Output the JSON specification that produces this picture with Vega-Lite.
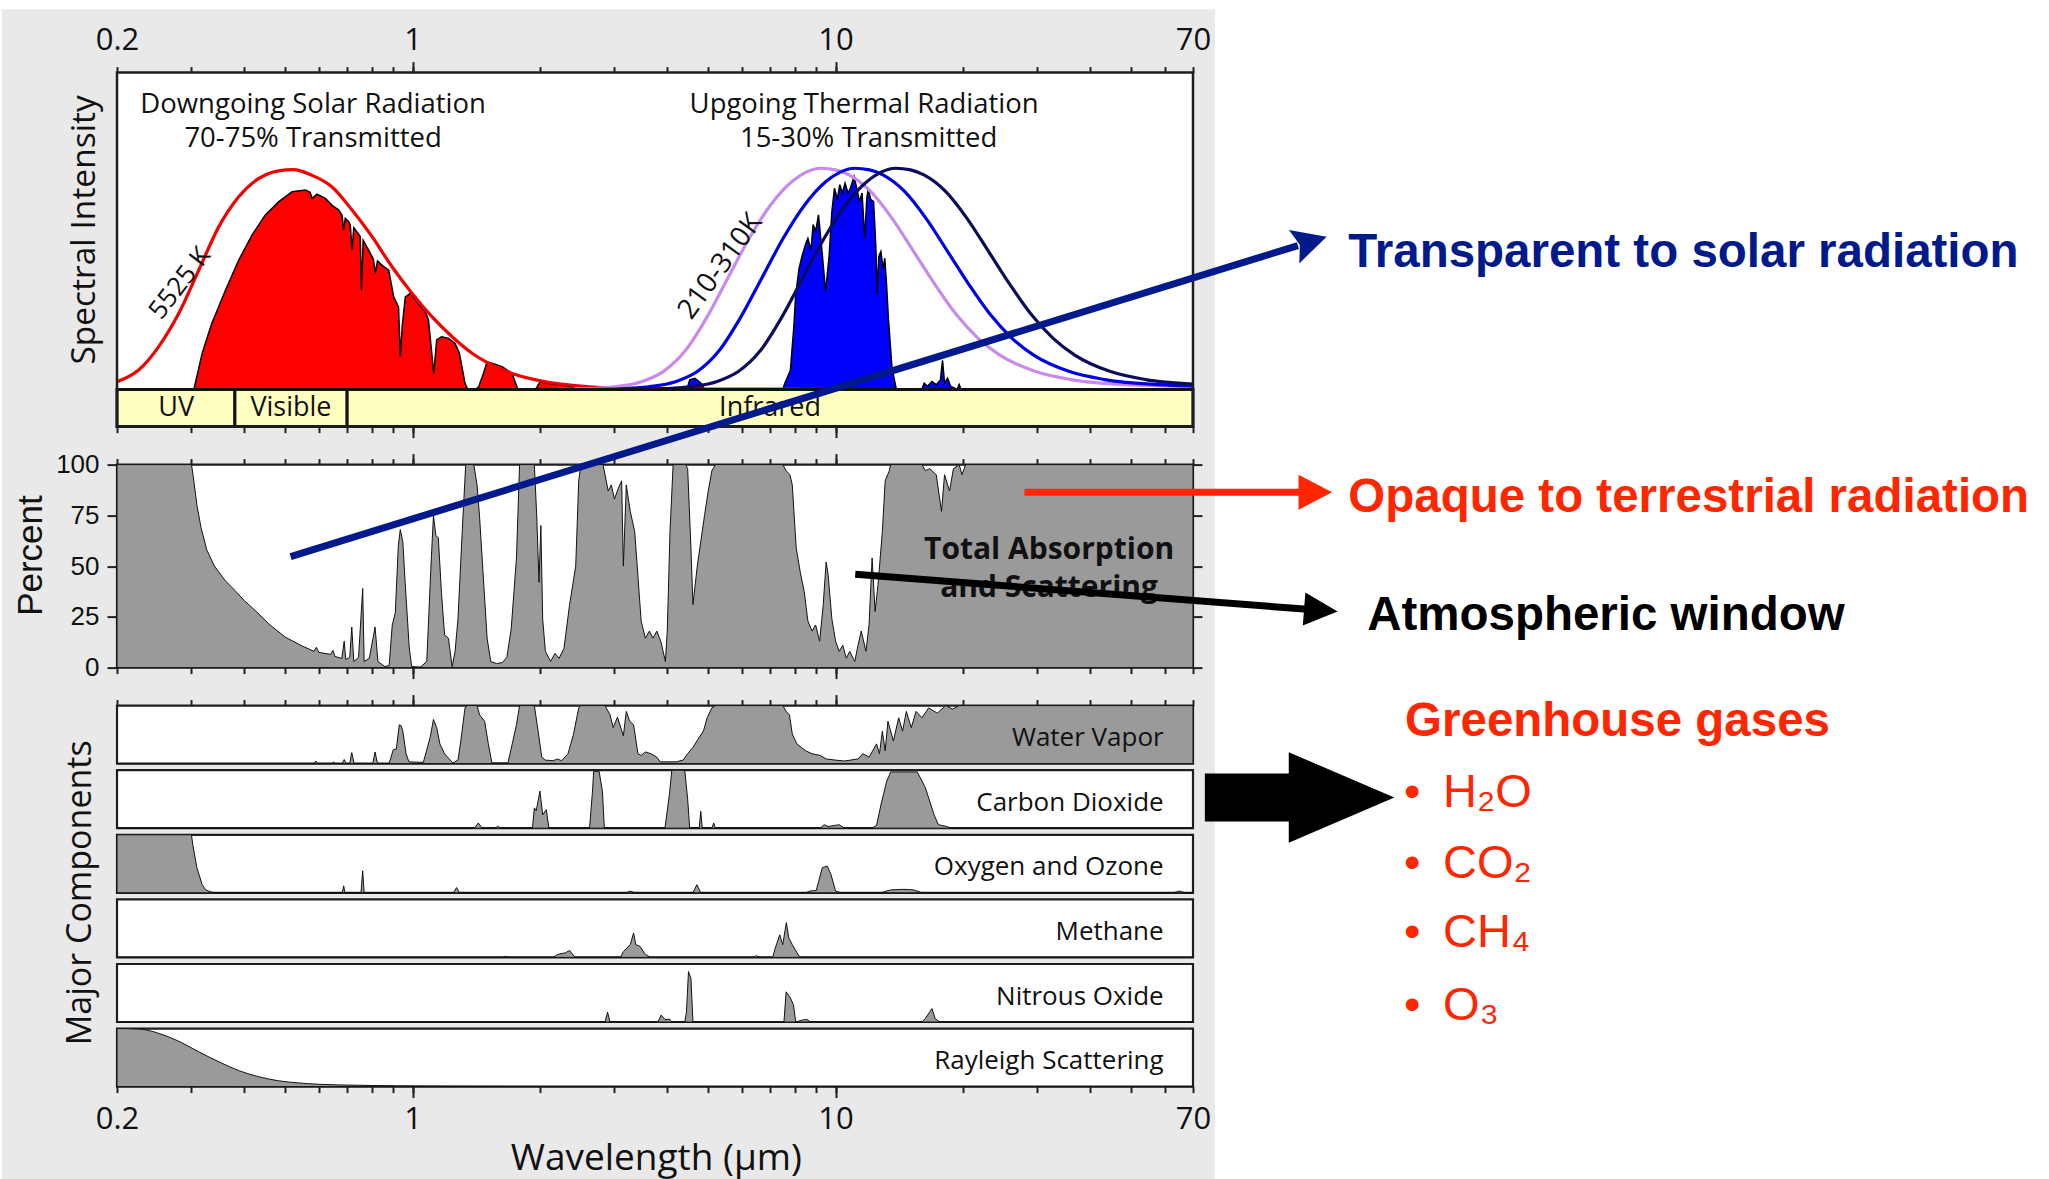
{
"$schema": "https://vega.github.io/schema/vega-lite/v6.json",
"background": "white",
"padding": {"left": 0, "top": 7.6, "right": 0, "bottom": 0},
"config": {"view": {"stroke": "#1e1e1e", "strokeWidth": 2.2, "fill": "white"}},
"resolve": {"scale": {"color": "independent"}, "legend": {"color": "independent"}},
"datasets": {
"solar": [{"w":0.2,"v":0},{"w":0.3,"v":0},{"w":0.304,"v":0},{"w":0.318,"v":0.114},{"w":0.335,"v":0.208},{"w":0.361,"v":0.313},{"w":0.388,"v":0.408},{"w":0.417,"v":0.487},{"w":0.448,"v":0.55},{"w":0.482,"v":0.592},{"w":0.519,"v":0.624},{"w":0.558,"v":0.629},{"w":0.572,"v":0.622},{"w":0.579,"v":0.603},{"w":0.594,"v":0.616},{"w":0.622,"v":0.603},{"w":0.645,"v":0.581},{"w":0.669,"v":0.566},{"w":0.681,"v":0.55},{"w":0.687,"v":0.503},{"w":0.693,"v":0.54},{"w":0.705,"v":0.53},{"w":0.712,"v":0.52},{"w":0.719,"v":0.44},{"w":0.726,"v":0.51},{"w":0.745,"v":0.49},{"w":0.752,"v":0.482},{"w":0.757,"v":0.313},{"w":0.764,"v":0.471},{"w":0.795,"v":0.429},{"w":0.808,"v":0.41},{"w":0.816,"v":0.366},{"w":0.826,"v":0.405},{"w":0.85,"v":0.39},{"w":0.878,"v":0.376},{"w":0.902,"v":0.292},{"w":0.926,"v":0.26},{"w":0.935,"v":0.103},{"w":0.945,"v":0.2},{"w":0.961,"v":0.292},{"w":0.988,"v":0.303},{"w":1.03,"v":0.27},{"w":1.072,"v":0.245},{"w":1.09,"v":0.219},{"w":1.122,"v":0.05},{"w":1.14,"v":0.156},{"w":1.17,"v":0.166},{"w":1.217,"v":0.161},{"w":1.26,"v":0.145},{"w":1.29,"v":0.114},{"w":1.33,"v":0.019},{"w":1.35,"v":0},{"w":1.41,"v":0},{"w":1.433,"v":0.008},{"w":1.47,"v":0.05},{"w":1.5,"v":0.087},{"w":1.56,"v":0.08},{"w":1.628,"v":0.072},{"w":1.718,"v":0.05},{"w":1.77,"v":0.003},{"w":1.82,"v":0},{"w":1.95,"v":0},{"w":1.969,"v":0.008},{"w":2.0,"v":0.024},{"w":2.06,"v":0.021},{"w":2.15,"v":0.016},{"w":2.26,"v":0.014},{"w":2.37,"v":0.008},{"w":2.46,"v":0},{"w":3.0,"v":0}],
"bb5525": [{"w":0.2,"v":0.024},{"w":0.225,"v":0.061},{"w":0.251,"v":0.135},{"w":0.28,"v":0.24},{"w":0.312,"v":0.376},{"w":0.348,"v":0.513},{"w":0.388,"v":0.608},{"w":0.433,"v":0.666},{"w":0.482,"v":0.69},{"w":0.523,"v":0.694},{"w":0.578,"v":0.676},{"w":0.645,"v":0.639},{"w":0.719,"v":0.566},{"w":0.802,"v":0.482},{"w":0.894,"v":0.387},{"w":0.997,"v":0.303},{"w":1.112,"v":0.229},{"w":1.24,"v":0.166},{"w":1.382,"v":0.114},{"w":1.54,"v":0.077},{"w":1.718,"v":0.05},{"w":2.06,"v":0.024},{"w":2.46,"v":0.011},{"w":3.24,"v":0.003},{"w":5,"v":0.001},{"w":10,"v":0}],
"bbT": [
{"s":"310 K","w":2.2,"v":0},{"s":"310 K","w":2.6,"v":0.002},{"s":"310 K","w":3.0,"v":0.008},{"s":"310 K","w":3.49,"v":0.025},{"s":"310 K","w":3.92,"v":0.057},{"s":"310 K","w":4.4,"v":0.12},{"s":"310 K","w":4.95,"v":0.225},{"s":"310 K","w":5.56,"v":0.351},{"s":"310 K","w":6.25,"v":0.477},{"s":"310 K","w":7.02,"v":0.582},{"s":"310 K","w":7.89,"v":0.656},{"s":"310 K","w":8.5,"v":0.685},{"s":"310 K","w":9.22,"v":0.698},{"s":"310 K","w":10.0,"v":0.693},{"s":"310 K","w":10.76,"v":0.677},{"s":"310 K","w":12.1,"v":0.625},{"s":"310 K","w":13.6,"v":0.54},{"s":"310 K","w":15.3,"v":0.435},{"s":"310 K","w":17.2,"v":0.33},{"s":"310 K","w":19.3,"v":0.236},{"s":"310 K","w":21.7,"v":0.162},{"s":"310 K","w":24.4,"v":0.109},{"s":"310 K","w":29.6,"v":0.057},{"s":"310 K","w":36.0,"v":0.031},{"s":"310 K","w":48.1,"v":0.015},{"s":"310 K","w":70,"v":0.009},
{"s":"260 K","w":2.65,"v":0},{"s":"260 K","w":3.13,"v":0.002},{"s":"260 K","w":3.61,"v":0.008},{"s":"260 K","w":4.2,"v":0.025},{"s":"260 K","w":4.72,"v":0.057},{"s":"260 K","w":5.29,"v":0.12},{"s":"260 K","w":5.95,"v":0.225},{"s":"260 K","w":6.69,"v":0.351},{"s":"260 K","w":7.52,"v":0.477},{"s":"260 K","w":8.45,"v":0.582},{"s":"260 K","w":9.49,"v":0.656},{"s":"260 K","w":10.23,"v":0.685},{"s":"260 K","w":11.09,"v":0.698},{"s":"260 K","w":12.03,"v":0.693},{"s":"260 K","w":12.94,"v":0.677},{"s":"260 K","w":14.56,"v":0.625},{"s":"260 K","w":16.36,"v":0.54},{"s":"260 K","w":18.41,"v":0.435},{"s":"260 K","w":20.69,"v":0.33},{"s":"260 K","w":23.22,"v":0.236},{"s":"260 K","w":26.1,"v":0.162},{"s":"260 K","w":29.35,"v":0.109},{"s":"260 K","w":35.6,"v":0.057},{"s":"260 K","w":43.3,"v":0.031},{"s":"260 K","w":57.9,"v":0.015},{"s":"260 K","w":70,"v":0.011},
{"s":"210 K","w":3.3,"v":0},{"s":"210 K","w":3.91,"v":0.002},{"s":"210 K","w":4.51,"v":0.008},{"s":"210 K","w":5.25,"v":0.025},{"s":"210 K","w":5.9,"v":0.057},{"s":"210 K","w":6.62,"v":0.12},{"s":"210 K","w":7.44,"v":0.225},{"s":"210 K","w":8.36,"v":0.351},{"s":"210 K","w":9.4,"v":0.477},{"s":"210 K","w":10.56,"v":0.582},{"s":"210 K","w":11.87,"v":0.656},{"s":"210 K","w":12.78,"v":0.685},{"s":"210 K","w":13.87,"v":0.698},{"s":"210 K","w":15.04,"v":0.693},{"s":"210 K","w":16.18,"v":0.677},{"s":"210 K","w":18.2,"v":0.625},{"s":"210 K","w":20.45,"v":0.54},{"s":"210 K","w":23.01,"v":0.435},{"s":"210 K","w":25.87,"v":0.33},{"s":"210 K","w":29.03,"v":0.236},{"s":"210 K","w":32.64,"v":0.162},{"s":"210 K","w":36.7,"v":0.109},{"s":"210 K","w":44.5,"v":0.057},{"s":"210 K","w":54.1,"v":0.031},{"s":"210 K","w":70,"v":0.017}],
"thermal": [{"w":3.0,"v":0},{"w":4.45,"v":0},{"w":4.52,"v":0.03},{"w":4.65,"v":0.035},{"w":4.8,"v":0.02},{"w":4.9,"v":0},{"w":7.5,"v":0},{"w":7.59,"v":0.02},{"w":7.82,"v":0.06},{"w":7.97,"v":0.2},{"w":8.05,"v":0.3},{"w":8.2,"v":0.383},{"w":8.35,"v":0.425},{"w":8.5,"v":0.46},{"w":8.6,"v":0.477},{"w":8.75,"v":0.44},{"w":8.85,"v":0.52},{"w":8.98,"v":0.5},{"w":9.11,"v":0.551},{"w":9.29,"v":0.435},{"w":9.47,"v":0.309},{"w":9.66,"v":0.425},{"w":9.8,"v":0.56},{"w":9.94,"v":0.635},{"w":10.1,"v":0.6},{"w":10.23,"v":0.646},{"w":10.38,"v":0.62},{"w":10.53,"v":0.651},{"w":10.7,"v":0.62},{"w":10.84,"v":0.635},{"w":11.06,"v":0.672},{"w":11.2,"v":0.64},{"w":11.39,"v":0.593},{"w":11.55,"v":0.62},{"w":11.72,"v":0.477},{"w":11.85,"v":0.6},{"w":11.95,"v":0.635},{"w":12.1,"v":0.6},{"w":12.3,"v":0.593},{"w":12.45,"v":0.45},{"w":12.55,"v":0.3},{"w":12.65,"v":0.42},{"w":12.8,"v":0.435},{"w":12.95,"v":0.38},{"w":13.07,"v":0.414},{"w":13.2,"v":0.33},{"w":13.33,"v":0.225},{"w":13.6,"v":0.066},{"w":13.9,"v":0.005},{"w":14.0,"v":0},{"w":16.0,"v":0},{"w":16.2,"v":0.02},{"w":16.5,"v":0.01},{"w":16.9,"v":0.025},{"w":17.3,"v":0.015},{"w":17.7,"v":0.03},{"w":17.9,"v":0.092},{"w":18.1,"v":0.02},{"w":18.4,"v":0.035},{"w":18.7,"v":0.01},{"w":19.4,"v":0},{"w":19.6,"v":0.015},{"w":19.8,"v":0},{"w":20,"v":0}],
"bands": [{"band":"UV","a":0.2,"b":0.38,"m":0.276},{"band":"Visible","a":0.38,"b":0.7,"m":0.5156},{"band":"Infrared","a":0.7,"b":70,"m":7.0}],
"total": [{"w":0.2,"v":100},{"w":0.3,"v":100},{"w":0.303,"v":94},{"w":0.309,"v":80},{"w":0.316,"v":69},{"w":0.326,"v":58},{"w":0.34,"v":50},{"w":0.36,"v":43},{"w":0.38,"v":38},{"w":0.4,"v":33},{"w":0.43,"v":27},{"w":0.46,"v":21},{"w":0.5,"v":15},{"w":0.55,"v":10.5},{"w":0.585,"v":8},{"w":0.592,"v":10},{"w":0.6,"v":7.5},{"w":0.64,"v":6.5},{"w":0.648,"v":8.5},{"w":0.655,"v":5.5},{"w":0.68,"v":4.5},{"w":0.689,"v":13},{"w":0.695,"v":4},{"w":0.71,"v":5},{"w":0.718,"v":20},{"w":0.726,"v":3},{"w":0.745,"v":5},{"w":0.762,"v":39},{"w":0.768,"v":3},{"w":0.79,"v":4.6},{"w":0.815,"v":20},{"w":0.828,"v":3},{"w":0.86,"v":0.5},{"w":0.88,"v":1},{"w":0.895,"v":21},{"w":0.91,"v":27},{"w":0.925,"v":60},{"w":0.935,"v":68},{"w":0.948,"v":62},{"w":0.96,"v":42},{"w":0.982,"v":9.5},{"w":0.995,"v":0.5},{"w":1.04,"v":0},{"w":1.08,"v":3},{"w":1.105,"v":50},{"w":1.12,"v":75},{"w":1.135,"v":65},{"w":1.15,"v":64},{"w":1.17,"v":37},{"w":1.19,"v":16},{"w":1.215,"v":14.5},{"w":1.24,"v":0.5},{"w":1.26,"v":8},{"w":1.28,"v":24},{"w":1.31,"v":67},{"w":1.335,"v":100},{"w":1.395,"v":100},{"w":1.42,"v":90},{"w":1.44,"v":74},{"w":1.46,"v":54},{"w":1.5,"v":14.5},{"w":1.53,"v":3},{"w":1.58,"v":2},{"w":1.63,"v":2.5},{"w":1.67,"v":5},{"w":1.71,"v":19},{"w":1.76,"v":54},{"w":1.79,"v":100},{"w":1.94,"v":100},{"w":1.965,"v":75},{"w":1.99,"v":42},{"w":2.01,"v":70},{"w":2.03,"v":24},{"w":2.06,"v":8},{"w":2.12,"v":3},{"w":2.17,"v":7},{"w":2.22,"v":4.6},{"w":2.28,"v":9.5},{"w":2.35,"v":31},{"w":2.43,"v":50},{"w":2.47,"v":92},{"w":2.5,"v":100},{"w":2.82,"v":100},{"w":2.9,"v":87},{"w":2.95,"v":90},{"w":3.0,"v":83},{"w":3.06,"v":88},{"w":3.12,"v":92},{"w":3.15,"v":50},{"w":3.2,"v":90},{"w":3.27,"v":77},{"w":3.35,"v":67},{"w":3.47,"v":23},{"w":3.55,"v":14.5},{"w":3.63,"v":18},{"w":3.7,"v":14.5},{"w":3.78,"v":18},{"w":3.86,"v":13},{"w":3.96,"v":3},{"w":4.0,"v":18},{"w":4.06,"v":67},{"w":4.13,"v":100},{"w":4.42,"v":100},{"w":4.47,"v":98},{"w":4.55,"v":59},{"w":4.6,"v":31},{"w":4.71,"v":50},{"w":4.8,"v":62},{"w":4.9,"v":75},{"w":5.0,"v":87},{"w":5.1,"v":97},{"w":5.2,"v":100},{"w":7.5,"v":100},{"w":7.64,"v":97},{"w":7.8,"v":95},{"w":7.9,"v":90},{"w":8.07,"v":59},{"w":8.25,"v":47},{"w":8.43,"v":37.5},{"w":8.6,"v":23},{"w":8.8,"v":18},{"w":8.97,"v":21},{"w":9.17,"v":13},{"w":9.35,"v":31},{"w":9.5,"v":52},{"w":9.6,"v":46},{"w":9.8,"v":24},{"w":10.0,"v":13},{"w":10.2,"v":8},{"w":10.4,"v":11},{"w":10.6,"v":4.6},{"w":10.8,"v":8},{"w":11.1,"v":3},{"w":11.3,"v":11},{"w":11.5,"v":18},{"w":11.8,"v":8},{"w":12.0,"v":21},{"w":12.2,"v":54},{"w":12.4,"v":27.6},{"w":12.6,"v":40.8},{"w":12.9,"v":67},{"w":13.1,"v":92},{"w":13.4,"v":97},{"w":13.5,"v":100},{"w":16.0,"v":100},{"w":16.3,"v":97},{"w":16.7,"v":98},{"w":17.3,"v":95},{"w":17.8,"v":77},{"w":18.1,"v":95},{"w":18.6,"v":87},{"w":19.0,"v":98},{"w":19.6,"v":100},{"w":19.9,"v":95},{"w":20.3,"v":100},{"w":70,"v":100}],
"arrows": [{"name":"transparent","x":0.5146,"y":54.7,"x2":123.9,"y2":207.9},{"name":"opaque","x":27.96,"y":86.4,"x2":126.8,"y2":86.4},{"name":"window","x":11.13,"y":46.0,"x2":130.7,"y2":28.7}],
"notes": [{"name":"transparent","t":"Transparent to solar radiation","x":163.1,"y":197.5},{"name":"opaque","t":"Opaque to terrestrial radiation","x":163.1,"y":76.8},{"name":"window","t":"Atmospheric window","x":180.7,"y":18.6},{"name":"greenhouse","t":"Greenhouse gases","x":222.1,"y":-33.5}],
"gases": [{"t":"H\u2082O","x":273.2,"y":-68.5},{"t":"CO\u2082","x":273.2,"y":-103.8},{"t":"CH\u2084","x":273.2,"y":-137.4},{"t":"O\u2083","x":273.2,"y":-173.4}],
"bullets": [{"t":"\u2022","x":230.8,"y":-68.5},{"t":"\u2022","x":230.8,"y":-103.8},{"t":"\u2022","x":230.8,"y":-137.4},{"t":"\u2022","x":230.8,"y":-173.4}],
"wv": [{"w":0.2,"v":0},{"w":0.585,"v":0},{"w":0.59,"v":0.045},{"w":0.596,"v":0},{"w":0.645,"v":0},{"w":0.65,"v":0.03},{"w":0.656,"v":0},{"w":0.682,"v":0},{"w":0.689,"v":0.07},{"w":0.696,"v":0},{"w":0.71,"v":0},{"w":0.718,"v":0.19},{"w":0.727,"v":0},{"w":0.805,"v":0},{"w":0.815,"v":0.2},{"w":0.826,"v":0},{"w":0.88,"v":0},{"w":0.9,"v":0.24},{"w":0.915,"v":0.25},{"w":0.93,"v":0.67},{"w":0.94,"v":0.65},{"w":0.948,"v":0.56},{"w":0.965,"v":0.17},{"w":0.98,"v":0.03},{"w":1.06,"v":0.02},{"w":1.1,"v":0.45},{"w":1.12,"v":0.76},{"w":1.14,"v":0.62},{"w":1.16,"v":0.34},{"w":1.19,"v":0.17},{"w":1.22,"v":0.08},{"w":1.245,"v":0.01},{"w":1.28,"v":0.06},{"w":1.3,"v":0.39},{"w":1.33,"v":0.96},{"w":1.35,"v":1},{"w":1.42,"v":1},{"w":1.44,"v":0.84},{"w":1.48,"v":0.73},{"w":1.51,"v":0.34},{"w":1.54,"v":0.01},{"w":1.68,"v":0.01},{"w":1.72,"v":0.34},{"w":1.76,"v":0.67},{"w":1.79,"v":1},{"w":1.94,"v":1},{"w":1.98,"v":0.56},{"w":2.02,"v":0.11},{"w":2.06,"v":0.06},{"w":2.15,"v":0.05},{"w":2.2,"v":0.08},{"w":2.25,"v":0.05},{"w":2.33,"v":0.17},{"w":2.4,"v":0.5},{"w":2.47,"v":0.96},{"w":2.5,"v":1},{"w":2.85,"v":1},{"w":2.93,"v":0.84},{"w":2.98,"v":0.62},{"w":3.05,"v":0.8},{"w":3.15,"v":0.48},{"w":3.2,"v":0.9},{"w":3.26,"v":0.73},{"w":3.33,"v":0.67},{"w":3.41,"v":0.17},{"w":3.47,"v":0.14},{"w":3.55,"v":0.2},{"w":3.66,"v":0.17},{"w":3.78,"v":0.11},{"w":3.85,"v":0.03},{"w":4.2,"v":0.03},{"w":4.36,"v":0.06},{"w":4.47,"v":0.17},{"w":4.6,"v":0.28},{"w":4.7,"v":0.39},{"w":4.87,"v":0.56},{"w":4.97,"v":0.79},{"w":5.1,"v":0.96},{"w":5.2,"v":1},{"w":7.5,"v":1},{"w":7.64,"v":0.9},{"w":7.78,"v":0.84},{"w":7.9,"v":0.51},{"w":8.1,"v":0.34},{"w":8.3,"v":0.28},{"w":8.5,"v":0.22},{"w":8.8,"v":0.17},{"w":9.2,"v":0.14},{"w":9.5,"v":0.08},{"w":10,"v":0.06},{"w":10.5,"v":0.045},{"w":11.3,"v":0.08},{"w":11.6,"v":0.17},{"w":12,"v":0.11},{"w":12.5,"v":0.34},{"w":12.7,"v":0.17},{"w":12.9,"v":0.56},{"w":13.1,"v":0.22},{"w":13.3,"v":0.73},{"w":13.7,"v":0.39},{"w":14.1,"v":0.79},{"w":14.4,"v":0.56},{"w":14.7,"v":0.9},{"w":15.1,"v":0.62},{"w":15.5,"v":0.9},{"w":16,"v":0.79},{"w":16.6,"v":0.96},{"w":17.4,"v":0.87},{"w":18.2,"v":1},{"w":18.9,"v":0.94},{"w":19.6,"v":1},{"w":70,"v":1}],
"co2": [{"w":0.2,"v":0},{"w":1.4,"v":0},{"w":1.43,"v":0.09},{"w":1.46,"v":0},{"w":1.56,"v":0},{"w":1.59,"v":0.03},{"w":1.62,"v":0},{"w":1.92,"v":0},{"w":1.94,"v":0.35},{"w":1.96,"v":0.3},{"w":2.0,"v":0.64},{"w":2.03,"v":0.23},{"w":2.07,"v":0.32},{"w":2.1,"v":0},{"w":2.62,"v":0},{"w":2.66,"v":0.6},{"w":2.68,"v":0.98},{"w":2.76,"v":0.98},{"w":2.81,"v":0.64},{"w":2.84,"v":0},{"w":3.95,"v":0},{"w":4.05,"v":0.6},{"w":4.1,"v":1},{"w":4.4,"v":1},{"w":4.47,"v":0.5},{"w":4.52,"v":0},{"w":4.76,"v":0},{"w":4.8,"v":0.29},{"w":4.84,"v":0},{"w":5.1,"v":0},{"w":5.15,"v":0.09},{"w":5.2,"v":0},{"w":9.2,"v":0},{"w":9.4,"v":0.06},{"w":9.6,"v":0.03},{"w":10.2,"v":0.06},{"w":10.5,"v":0},{"w":12.2,"v":0},{"w":12.5,"v":0.05},{"w":12.8,"v":0.4},{"w":13.2,"v":0.8},{"w":13.5,"v":0.97},{"w":15.6,"v":0.97},{"w":16.3,"v":0.7},{"w":17.1,"v":0.23},{"w":17.5,"v":0.06},{"w":18.3,"v":0.03},{"w":18.8,"v":0},{"w":70,"v":0}],
"o3": [{"w":0.2,"v":1},{"w":0.3,"v":1},{"w":0.302,"v":0.84},{"w":0.309,"v":0.43},{"w":0.318,"v":0.14},{"w":0.324,"v":0.05},{"w":0.335,"v":0.01},{"w":0.345,"v":0},{"w":0.682,"v":0},{"w":0.687,"v":0.12},{"w":0.692,"v":0},{"w":0.755,"v":0},{"w":0.762,"v":0.38},{"w":0.768,"v":0},{"w":1.25,"v":0},{"w":1.27,"v":0.09},{"w":1.29,"v":0},{"w":3.2,"v":0},{"w":3.27,"v":0.03},{"w":3.35,"v":0},{"w":4.6,"v":0},{"w":4.7,"v":0.14},{"w":4.8,"v":0},{"w":8.5,"v":0},{"w":8.7,"v":0.03},{"w":9.0,"v":0.04},{"w":9.3,"v":0.43},{"w":9.55,"v":0.46},{"w":9.75,"v":0.32},{"w":10.0,"v":0.03},{"w":10.3,"v":0},{"w":12.8,"v":0},{"w":13.5,"v":0.05},{"w":14.5,"v":0.06},{"w":15.3,"v":0.05},{"w":16,"v":0},{"w":63,"v":0},{"w":65,"v":0.03},{"w":67,"v":0},{"w":70,"v":0}],
"ch4": [{"w":0.2,"v":0},{"w":1.63,"v":0},{"w":1.66,"v":0.02},{"w":1.69,"v":0},{"w":2.15,"v":0},{"w":2.2,"v":0.05},{"w":2.3,"v":0.08},{"w":2.35,"v":0.12},{"w":2.42,"v":0},{"w":3.1,"v":0},{"w":3.15,"v":0.1},{"w":3.27,"v":0.22},{"w":3.33,"v":0.42},{"w":3.37,"v":0.22},{"w":3.45,"v":0.19},{"w":3.55,"v":0.05},{"w":3.65,"v":0},{"w":6.4,"v":0},{"w":6.5,"v":0.03},{"w":6.6,"v":0},{"w":7.1,"v":0},{"w":7.2,"v":0.16},{"w":7.38,"v":0.39},{"w":7.5,"v":0.22},{"w":7.65,"v":0.6},{"w":7.75,"v":0.34},{"w":7.9,"v":0.22},{"w":8.2,"v":0.02},{"w":8.3,"v":0},{"w":70,"v":0}],
"n2o": [{"w":0.2,"v":0},{"w":2.85,"v":0},{"w":2.89,"v":0.17},{"w":2.93,"v":0},{"w":3.8,"v":0},{"w":3.87,"v":0.12},{"w":3.95,"v":0.04},{"w":4.05,"v":0.05},{"w":4.1,"v":0},{"w":4.4,"v":0},{"w":4.44,"v":0.17},{"w":4.49,"v":0.87},{"w":4.55,"v":0.75},{"w":4.6,"v":0},{"w":7.55,"v":0},{"w":7.64,"v":0.52},{"w":7.8,"v":0.43},{"w":7.95,"v":0.3},{"w":8.05,"v":0},{"w":8.4,"v":0.04},{"w":8.6,"v":0.04},{"w":8.7,"v":0},{"w":16,"v":0},{"w":16.3,"v":0.06},{"w":16.9,"v":0.23},{"w":17.2,"v":0.06},{"w":17.6,"v":0},{"w":70,"v":0}],
"ray": [{"w":0.2,"v":1},{"w":0.227,"v":0.99},{"w":0.253,"v":0.91},{"w":0.282,"v":0.77},{"w":0.314,"v":0.59},{"w":0.35,"v":0.42},{"w":0.39,"v":0.27},{"w":0.433,"v":0.17},{"w":0.482,"v":0.1},{"w":0.537,"v":0.064},{"w":0.6,"v":0.04},{"w":0.745,"v":0.023},{"w":0.92,"v":0.012},{"w":1.14,"v":0.006},{"w":2,"v":0.001},{"w":70,"v":0}]
},
"spacing": 38,
"bounds": "flush",
"vconcat": [
{
"width": 1076, "height": 354,
"resolve": {"axis": {"x": "independent"}},
"layer": [
{"data": {"values": [{}]}, "mark": {"type": "rect", "fill": "#e9e9e9"},
 "encoding": {"x": {"datum": 0.10696, "type": "quantitative", "scale": {"type": "log", "domain": [0.2, 70], "nice": false}, "axis": null}, "x2": {"datum": 78.94}, "y": {"datum": 1.2, "type": "quantitative", "scale": {"domain": [-0.1175, 1], "nice": false, "zero": false}, "axis": null}, "y2": {"datum": -2.494}}},
{"data": {"values": [{}]}, "mark": {"type": "rect", "fill": "white"},
 "encoding": {"x": {"datum": 0.2, "type": "quantitative", "axis": null}, "x2": {"datum": 70}, "y": {"datum": 0, "type": "quantitative", "axis": null}, "y2": {"datum": 1}}},
{"data": {"name": "solar"}, "mark": {"type": "area", "fill": "#ff0000", "stroke": "#000", "strokeWidth": 1.5},
 "encoding": {"x": {"field": "w", "type": "quantitative", "axis": {"orient": "top", "values": [0.2,0.3,0.4,0.5,0.6,0.7,0.8,0.9,1,2,3,4,5,6,7,8,9,10,20,30,40,50,60,70], "format": "~g", "labelExpr": "(datum.value==0.2||datum.value==1||datum.value==10||datum.value==70)?datum.label:''", "labelFont": "Open Sans", "labelFontSize": 31, "labelColor": "#111", "labelPadding": 10, "labelFlush": false, "labelOverlap": false, "labelBound": false, "tickSize": 6, "tickWidth": 2, "tickColor": "#222", "domain": false, "grid": false, "title": null, "zindex": 1}}, "y": {"field": "v", "type": "quantitative", "axis": null}}},
{"data": {"name": "thermal"}, "mark": {"type": "area", "fill": "#0000ff", "stroke": "#000", "strokeWidth": 1.5},
 "encoding": {"x": {"field": "w", "type": "quantitative", "axis": {"orient": "top", "values": [1, 10], "labels": false, "tickSize": 11, "tickWidth": 2, "tickColor": "#222", "domain": false, "grid": false, "title": null, "zindex": 1}}, "y": {"field": "v", "type": "quantitative", "axis": null}}},
{"data": {"name": "bb5525"}, "mark": {"type": "line", "stroke": "#f00000", "strokeWidth": 3.2, "interpolate": "monotone"},
 "encoding": {"x": {"field": "w", "type": "quantitative", "axis": {"orient": "bottom", "values": [0.2,0.3,0.4,0.5,0.6,0.7,0.8,0.9,1,2,3,4,5,6,7,8,9,10,20,30,40,50,60,70], "labels": false, "tickSize": 6, "tickWidth": 2, "tickColor": "#222", "domain": false, "grid": false, "title": null, "zindex": 1}}, "y": {"field": "v", "type": "quantitative", "axis": null}}},
{"data": {"name": "bbT"}, "mark": {"type": "line", "strokeWidth": 3.2, "interpolate": "monotone"},
 "encoding": {"x": {"field": "w", "type": "quantitative", "axis": {"orient": "bottom", "values": [1, 10], "labels": false, "tickSize": 11, "tickWidth": 2, "tickColor": "#222", "domain": false, "grid": false, "title": null, "zindex": 1}}, "y": {"field": "v", "type": "quantitative", "axis": null}, "color": {"field": "s", "type": "nominal", "scale": {"domain": ["310 K", "260 K", "210 K"], "range": ["#c98aee", "#0000e6", "#0c0c5c"]}, "legend": null}}},
{"data": {"name": "bands"}, "mark": {"type": "rect", "fill": "#ffffc2", "stroke": "#111", "strokeWidth": 3},
 "encoding": {"x": {"field": "a", "type": "quantitative", "axis": null}, "x2": {"field": "b"}, "y": {"datum": 0, "type": "quantitative", "axis": null}, "y2": {"datum": -0.1175}}},
{"data": {"name": "bands"}, "mark": {"type": "text", "font": "Open Sans", "fontSize": 27, "color": "#111", "align": "center", "baseline": "middle"},
 "encoding": {"x": {"field": "m", "type": "quantitative", "axis": null}, "y": {"datum": -0.058, "type": "quantitative", "axis": null}, "text": {"field": "band"}}},
{"data": {"values": [{"t": "Downgoing Solar Radiation", "x": 0.5816, "y": 0.8737}, {"t": "70-75% Transmitted", "x": 0.5816, "y": 0.7642}, {"t": "Upgoing Thermal Radiation", "x": 11.68, "y": 0.8737}, {"t": "15-30% Transmitted", "x": 11.97, "y": 0.7642}]},
 "mark": {"type": "text", "font": "Open Sans", "fontSize": 27.5, "color": "#111", "align": "center", "baseline": "alphabetic"},
 "encoding": {"x": {"field": "x", "type": "quantitative", "axis": null}, "y": {"field": "y", "type": "quantitative", "axis": null}, "text": {"field": "t"}}},
{"data": {"values": [{"t": "5525 K", "x": 0.2818, "y": 0.3349}]},
 "mark": {"type": "text", "font": "Open Sans", "fontSize": 26, "color": "#111", "align": "center", "baseline": "middle", "angle": 307.6},
 "encoding": {"x": {"field": "x", "type": "quantitative", "axis": null}, "y": {"field": "y", "type": "quantitative", "axis": null}, "text": {"field": "t"}}},
{"data": {"values": [{"t": "210-310K", "x": 5.35, "y": 0.3876}]},
 "mark": {"type": "text", "font": "Open Sans", "fontSize": 28, "color": "#111", "align": "center", "baseline": "middle", "angle": 306},
 "encoding": {"x": {"field": "x", "type": "quantitative", "axis": null}, "y": {"field": "y", "type": "quantitative", "axis": null}, "text": {"field": "t"}}},
{"data": {"values": [{"t": "Spectral Intensity", "x": 0.1682, "y": 0.5035}]},
 "mark": {"type": "text", "font": "Open Sans", "fontSize": 33.5, "color": "#111", "align": "center", "baseline": "middle", "angle": 270},
 "encoding": {"x": {"field": "x", "type": "quantitative", "axis": null}, "y": {"field": "y", "type": "quantitative", "axis": null}, "text": {"field": "t"}}},
{"data": {"values": [{}]}, "mark": {"type": "rect", "filled": false, "color": "#1e1e1e", "strokeWidth": 2.5},
 "encoding": {"x": {"datum": 0.2, "type": "quantitative", "axis": null}, "x2": {"datum": 70}, "y": {"datum": -0.1175, "type": "quantitative", "axis": null}, "y2": {"datum": 1}}}
]
},
{
"width": 1076, "height": 203,
"resolve": {"axis": {"x": "independent", "y": "independent"}},
"layer": [
{"data": {"name": "total"}, "mark": {"type": "area", "fill": "#9a9a9a", "stroke": "#111", "strokeWidth": 1},
 "encoding": {"x": {"field": "w", "type": "quantitative", "scale": {"type": "log", "domain": [0.2, 70], "nice": false}, "axis": {"orient": "bottom", "values": [0.2,0.3,0.4,0.5,0.6,0.7,0.8,0.9,1,2,3,4,5,6,7,8,9,10,20,30,40,50,60,70], "labels": false, "tickSize": 6, "tickWidth": 2, "tickColor": "#222", "domain": false, "grid": false, "title": null}},
  "y": {"field": "v", "type": "quantitative", "scale": {"domain": [0, 100], "nice": false}, "axis": {"orient": "left", "values": [0, 25, 50, 75, 100], "labelFont": "Liberation Sans", "labelFontSize": 26, "labelColor": "#111", "labelPadding": 8, "tickSize": 10, "tickWidth": 2, "tickColor": "#222", "domain": false, "grid": false, "title": null}}}},
{"data": {"values": [{"t": "Total Absorption", "x": 31.98, "y": 53.3}, {"t": "and Scattering", "x": 31.98, "y": 34.6}]},
 "mark": {"type": "text", "font": "Open Sans", "fontWeight": "bold", "fontSize": 30, "color": "#111", "align": "center", "baseline": "alphabetic"},
 "encoding": {"x": {"field": "x", "type": "quantitative", "axis": {"orient": "top", "values": [0.2,0.3,0.4,0.5,0.6,0.7,0.8,0.9,1,2,3,4,5,6,7,8,9,10,20,30,40,50,60,70], "labels": false, "tickSize": 6, "tickWidth": 2, "tickColor": "#222", "domain": false, "grid": false, "title": null}},
  "y": {"field": "y", "type": "quantitative", "axis": {"orient": "right", "values": [0, 25, 50, 75, 100], "labels": false, "tickSize": 9, "tickWidth": 2, "tickColor": "#222", "domain": false, "grid": false, "title": null}}, "text": {"field": "t"}}},
{"data": {"values": [{"t": "Percent", "x": 0.1252, "y": 55.2}]},
 "mark": {"type": "text", "font": "Liberation Sans", "fontSize": 35, "color": "#111", "align": "center", "baseline": "middle", "angle": 270},
 "encoding": {"x": {"field": "x", "type": "quantitative", "axis": {"orient": "top", "values": [1, 10], "labels": false, "tickSize": 11, "tickWidth": 2, "tickColor": "#222", "domain": false, "grid": false, "title": null}}, "y": {"field": "y", "type": "quantitative", "axis": null}, "text": {"field": "t"}}},
{"data": {"name": "arrows"}, "mark": {"type": "rule", "strokeWidth": 7, "strokeCap": "butt"},
 "encoding": {"x": {"field": "x", "type": "quantitative", "axis": {"orient": "bottom", "values": [1, 10], "labels": false, "tickSize": 11, "tickWidth": 2, "tickColor": "#222", "domain": false, "grid": false, "title": null}}, "x2": {"field": "x2"}, "y": {"field": "y", "type": "quantitative", "axis": null}, "y2": {"field": "y2"},
  "color": {"field": "name", "type": "nominal", "scale": {"domain": ["transparent", "opaque", "window", "greenhouse"], "range": ["#001a8c", "#ff2600", "#000000", "#ff2600"]}, "legend": null}}},
{"data": {"values": [{"x": 144.9, "y": 212.3}]},
 "mark": {"type": "point", "shape": "M0,0L-3.4,-1.75L-2.8,0L-3.4,1.75Z", "size": 400, "angle": 342.83, "filled": true, "color": "#001a8c", "opacity": 1, "strokeWidth": 0},
 "encoding": {"x": {"field": "x", "type": "quantitative", "axis": null}, "y": {"field": "y", "type": "quantitative", "axis": null}}},
{"data": {"values": [{"x": 149.3, "y": 86.4}]},
 "mark": {"type": "point", "shape": "M0,0L-3.36,-1.75L-3.36,1.75Z", "size": 400, "angle": 0, "filled": true, "color": "#ff2600", "opacity": 1, "strokeWidth": 0},
 "encoding": {"x": {"field": "x", "type": "quantitative", "axis": null}, "y": {"field": "y", "type": "quantitative", "axis": null}}},
{"data": {"values": [{"x": 153.8, "y": 27.6}]},
 "mark": {"type": "point", "shape": "M0,0L-3.36,-1.65L-3.36,1.65Z", "size": 400, "angle": 4.42, "filled": true, "color": "#000000", "opacity": 1, "strokeWidth": 0},
 "encoding": {"x": {"field": "x", "type": "quantitative", "axis": null}, "y": {"field": "y", "type": "quantitative", "axis": null}}},
{"data": {"values": [{"x": 209.5, "y": -64.0}]},
 "mark": {"type": "point", "shape": "M0,0L-1.056,-0.453L-1.056,-0.239L-1.895,-0.239L-1.895,0.239L-1.056,0.239L-1.056,0.453Z", "size": 40000, "angle": 0, "filled": true, "color": "#000000", "opacity": 1, "strokeWidth": 0},
 "encoding": {"x": {"field": "x", "type": "quantitative", "axis": null}, "y": {"field": "y", "type": "quantitative", "axis": null}}},
{"data": {"name": "notes"}, "mark": {"type": "text", "font": "Liberation Sans", "fontWeight": "bold", "fontSize": 47.5, "align": "left", "baseline": "alphabetic"},
 "encoding": {"x": {"field": "x", "type": "quantitative", "axis": null}, "y": {"field": "y", "type": "quantitative", "axis": null}, "text": {"field": "t"}, "color": {"field": "name", "type": "nominal", "legend": null}}},
{"data": {"name": "gases"}, "mark": {"type": "text", "font": "Liberation Sans", "fontSize": 47, "color": "#ff2600", "align": "left", "baseline": "alphabetic"},
 "encoding": {"x": {"field": "x", "type": "quantitative", "axis": null}, "y": {"field": "y", "type": "quantitative", "axis": null}, "text": {"field": "t"}}},
{"data": {"name": "bullets"}, "mark": {"type": "text", "font": "Liberation Sans", "fontSize": 47, "color": "#ff2600", "align": "center", "baseline": "alphabetic"},
 "encoding": {"x": {"field": "x", "type": "quantitative", "axis": null}, "y": {"field": "y", "type": "quantitative", "axis": null}, "text": {"field": "t"}}}
]
},
{
"spacing": 6.6,
"bounds": "flush",
"vconcat": [
{"width": 1076, "height": 58, "resolve": {"axis": {"x": "independent"}},
 "layer": [
 {"data": {"name": "wv"}, "mark": {"type": "area", "fill": "#9a9a9a", "stroke": "#111", "strokeWidth": 1},
  "encoding": {"x": {"field": "w", "type": "quantitative", "scale": {"type": "log", "domain": [0.2, 70], "nice": false}, "axis": {"orient": "top", "values": [0.2,0.3,0.4,0.5,0.6,0.7,0.8,0.9,1,2,3,4,5,6,7,8,9,10,20,30,40,50,60,70], "labels": false, "tickSize": 6, "tickWidth": 2, "tickColor": "#222", "domain": false, "grid": false, "title": null}}, "y": {"field": "v", "type": "quantitative", "scale": {"domain": [0, 1], "nice": false}, "axis": null}}},
 {"data": {"values": [{"t": "Water Vapor", "x": 59.66, "y": 0.3}]}, "mark": {"type": "text", "font": "Open Sans", "fontSize": 26, "color": "#111", "align": "right", "baseline": "alphabetic"},
  "encoding": {"x": {"field": "x", "type": "quantitative", "axis": {"orient": "top", "values": [1, 10], "labels": false, "tickSize": 11, "tickWidth": 2, "tickColor": "#222", "domain": false, "grid": false, "title": null}}, "y": {"field": "y", "type": "quantitative", "axis": null}, "text": {"field": "t"}}}
 ]},
{"width": 1076, "height": 58,
 "layer": [
 {"data": {"name": "co2"}, "mark": {"type": "area", "fill": "#9a9a9a", "stroke": "#111", "strokeWidth": 1},
  "encoding": {"x": {"field": "w", "type": "quantitative", "scale": {"type": "log", "domain": [0.2, 70], "nice": false}, "axis": null}, "y": {"field": "v", "type": "quantitative", "scale": {"domain": [0, 1], "nice": false}, "axis": null}}},
 {"data": {"values": [{"t": "Carbon Dioxide", "x": 59.66, "y": 0.3}]}, "mark": {"type": "text", "font": "Open Sans", "fontSize": 26, "color": "#111", "align": "right", "baseline": "alphabetic"},
  "encoding": {"x": {"field": "x", "type": "quantitative", "axis": null}, "y": {"field": "y", "type": "quantitative", "axis": null}, "text": {"field": "t"}}}
 ]},
{"width": 1076, "height": 58,
 "layer": [
 {"data": {"name": "o3"}, "mark": {"type": "area", "fill": "#9a9a9a", "stroke": "#111", "strokeWidth": 1},
  "encoding": {"x": {"field": "w", "type": "quantitative", "scale": {"type": "log", "domain": [0.2, 70], "nice": false}, "axis": null}, "y": {"field": "v", "type": "quantitative", "scale": {"domain": [0, 1], "nice": false}, "axis": null}}},
 {"data": {"values": [{"t": "Oxygen and Ozone", "x": 59.66, "y": 0.3}]}, "mark": {"type": "text", "font": "Open Sans", "fontSize": 26, "color": "#111", "align": "right", "baseline": "alphabetic"},
  "encoding": {"x": {"field": "x", "type": "quantitative", "axis": null}, "y": {"field": "y", "type": "quantitative", "axis": null}, "text": {"field": "t"}}},
 {"data": {"values": [{"t": "Major Components", "x": 0.1642, "y": 0.0}]}, "mark": {"type": "text", "font": "Open Sans", "fontSize": 34, "color": "#111", "align": "center", "baseline": "middle", "angle": 270},
  "encoding": {"x": {"field": "x", "type": "quantitative", "axis": null}, "y": {"field": "y", "type": "quantitative", "axis": null}, "text": {"field": "t"}}}
 ]},
{"width": 1076, "height": 58,
 "layer": [
 {"data": {"name": "ch4"}, "mark": {"type": "area", "fill": "#9a9a9a", "stroke": "#111", "strokeWidth": 1},
  "encoding": {"x": {"field": "w", "type": "quantitative", "scale": {"type": "log", "domain": [0.2, 70], "nice": false}, "axis": null}, "y": {"field": "v", "type": "quantitative", "scale": {"domain": [0, 1], "nice": false}, "axis": null}}},
 {"data": {"values": [{"t": "Methane", "x": 59.66, "y": 0.3}]}, "mark": {"type": "text", "font": "Open Sans", "fontSize": 26, "color": "#111", "align": "right", "baseline": "alphabetic"},
  "encoding": {"x": {"field": "x", "type": "quantitative", "axis": null}, "y": {"field": "y", "type": "quantitative", "axis": null}, "text": {"field": "t"}}}
 ]},
{"width": 1076, "height": 58,
 "layer": [
 {"data": {"name": "n2o"}, "mark": {"type": "area", "fill": "#9a9a9a", "stroke": "#111", "strokeWidth": 1},
  "encoding": {"x": {"field": "w", "type": "quantitative", "scale": {"type": "log", "domain": [0.2, 70], "nice": false}, "axis": null}, "y": {"field": "v", "type": "quantitative", "scale": {"domain": [0, 1], "nice": false}, "axis": null}}},
 {"data": {"values": [{"t": "Nitrous Oxide", "x": 59.66, "y": 0.3}]}, "mark": {"type": "text", "font": "Open Sans", "fontSize": 26, "color": "#111", "align": "right", "baseline": "alphabetic"},
  "encoding": {"x": {"field": "x", "type": "quantitative", "axis": null}, "y": {"field": "y", "type": "quantitative", "axis": null}, "text": {"field": "t"}}}
 ]},
{"width": 1076, "height": 58, "resolve": {"axis": {"x": "independent"}},
 "layer": [
 {"data": {"name": "ray"}, "mark": {"type": "area", "fill": "#9a9a9a", "stroke": "#111", "strokeWidth": 1, "interpolate": "monotone"},
  "encoding": {"x": {"field": "w", "type": "quantitative", "scale": {"type": "log", "domain": [0.2, 70], "nice": false}, "axis": {"orient": "bottom", "values": [0.2,0.3,0.4,0.5,0.6,0.7,0.8,0.9,1,2,3,4,5,6,7,8,9,10,20,30,40,50,60,70], "format": "~g", "labelExpr": "(datum.value==0.2||datum.value==1||datum.value==10||datum.value==70)?datum.label:''", "labelFont": "Open Sans", "labelFontSize": 31, "labelColor": "#111", "labelPadding": 12, "labelFlush": false, "labelOverlap": false, "labelBound": false, "tickSize": 6, "tickWidth": 2, "tickColor": "#222", "domain": false, "grid": false, "title": null}}, "y": {"field": "v", "type": "quantitative", "scale": {"domain": [0, 1], "nice": false}, "axis": null}}},
 {"data": {"values": [{"t": "Rayleigh Scattering", "x": 59.66, "y": 0.3}]}, "mark": {"type": "text", "font": "Open Sans", "fontSize": 26, "color": "#111", "align": "right", "baseline": "alphabetic"},
  "encoding": {"x": {"field": "x", "type": "quantitative", "axis": {"orient": "bottom", "values": [1, 10], "labels": false, "tickSize": 11, "tickWidth": 2, "tickColor": "#222", "domain": false, "grid": false, "title": null}}, "y": {"field": "y", "type": "quantitative", "axis": null}, "text": {"field": "t"}}},
 {"data": {"values": [{"t": "Wavelength (\u03bcm)", "x": 3.77, "y": -1.431}]}, "mark": {"type": "text", "font": "Open Sans", "fontSize": 37, "color": "#111", "align": "center", "baseline": "alphabetic"},
  "encoding": {"x": {"field": "x", "type": "quantitative", "axis": null}, "y": {"field": "y", "type": "quantitative", "axis": null}, "text": {"field": "t"}}}
 ]}
]
}
]
}
